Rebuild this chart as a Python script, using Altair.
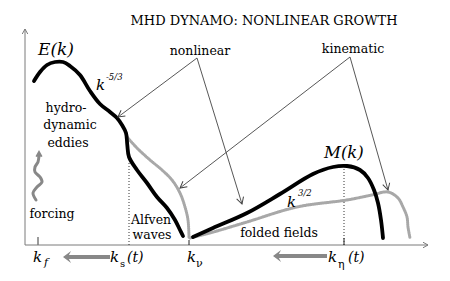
import math
import altair as alt
import pandas as pd

# ---- schematic spectra (x = wavenumber position, y = spectrum level, figure units) ----
E_nl_x = [34, 40, 47, 55, 63, 70, 80, 90, 100, 110, 117, 122, 126, 127.3, 129, 137, 147, 157, 167, 175, 180, 183]
E_nl_y = [81, 72, 65, 62, 62, 66, 75, 91, 104, 112, 118, 125, 133, 145, 157, 170, 183, 197, 208, 220, 230, 236]
E_kin_x = [127, 137, 150, 162, 172, 180, 185, 188, 189]
E_kin_y = [137, 148, 160, 170, 180, 193, 207, 220, 238]
M_nl_x = [193, 213, 247, 280, 313, 333, 347, 360, 368, 374, 378, 381, 383]
M_nl_y = [237, 228, 213, 194, 174, 167, 166, 170, 178, 190, 203, 220, 238]
M_kin_x = [190, 210, 247, 297, 347, 372, 388, 398, 403, 407, 408, 410]
M_kin_y = [238, 233, 222, 207, 200, 195, 192, 198, 207, 217, 227, 238]
forcing_x = [36, 33, 37, 42, 40, 35, 35, 38, 39]
forcing_y = [200, 193, 187, 182, 177, 172, 167, 162, 155]

# annotation pointers (label -> curve)
ann_x0 = [197, 197, 350, 350]
ann_y0 = [58, 58, 57, 57]
ann_x1 = [118, 242, 180, 388]
ann_y1 = [117, 204, 188, 190]

# characteristic wavenumbers
k_f, k_s, k_nu, k_eta = 38, 129, 189, 344

# texts
title_text = ["MHD DYNAMO: NONLINEAR GROWTH"]
italic_labels = ["E(k)", "k", "-5/3", "M(k)", "k", "3/2", "k", "f", "k", "(t)", "k", "k", "(t)"]
italic_x = [38, 96, 106, 324, 287, 298, 33, 44, 110, 127, 187, 328, 348]
italic_y = [55, 90, 80, 158, 207, 196, 262, 266, 262, 262, 262, 262, 262]
italic_s = [17, 15, 8.5, 16.5, 15, 8.5, 15, 11, 15, 14, 15, 15, 14]
sub_labels = ["s", "ν", "η"]
sub_x = [120, 196, 338]
sub_y = [267, 267, 268]
sub_s = [10, 11, 11]
word_labels = ["nonlinear", "kinematic", "hydro-", "dynamic", "eddies", "forcing", "Alfven", "waves", "folded fields"]
word_x = [200, 353, 66, 70, 68, 52, 151, 152, 279]
word_y = [55, 53, 112, 129, 147, 218, 224, 239, 237]

FONT = "DejaVu Serif"

XS = alt.Scale(domain=[8, 442], nice=False, zero=False)
YS = alt.Scale(domain=[8, 273], nice=False, zero=False, reverse=True)
X = alt.X("x:Q", scale=XS, axis=None)
Y = alt.Y("y:Q", scale=YS, axis=None)


def curve(xs, ys, color, width, dash=None, interp="catmull-rom"):
    df = pd.DataFrame({"x": xs, "y": ys, "i": list(range(len(xs)))})
    kw = dict(color=color, strokeWidth=width, interpolate=interp, strokeCap="round",
              strokeJoin="round", clip=False)
    if dash:
        kw["strokeDash"] = dash
    return alt.Chart(df).mark_line(**kw).encode(x=X, y=Y, order="i:Q")


def segs(x0, y0, x1, y1, color, width, dash=None):
    df = pd.DataFrame({"x": x0, "y": y0, "x2": x1, "y2": y1})
    kw = dict(color=color, strokeWidth=width)
    if dash:
        kw["strokeDash"] = dash
    return alt.Chart(df).mark_rule(**kw).encode(x=X, y=Y, x2="x2:Q", y2="y2:Q")


def heads(x0, y0, x1, y1, color, size, shape, filled, width=1):
    ang = [math.degrees(math.atan2(b1 - b0, a1 - a0)) % 360 for a0, b0, a1, b1 in zip(x0, y0, x1, y1)]
    df = pd.DataFrame({"x": x1, "y": y1, "ang": ang})
    return alt.Chart(df).mark_point(shape=shape, filled=filled, size=size, color=color,
                                    strokeWidth=width, opacity=1).encode(
        x=X, y=Y, angle=alt.Angle("ang:Q", scale=None))


def texts(labels, xs, ys, sizes, align, style="normal", color="black"):
    df = pd.DataFrame({"t": labels, "x": xs, "y": ys, "s": sizes})
    return alt.Chart(df).mark_text(align=align, baseline="alphabetic", font=FONT,
                                   fontStyle=style, color=color).encode(
        x=X, y=Y, text="t:N", size=alt.Size("s:Q", scale=None))


V_OPEN = "M-1,-0.55L0,0L-1,0.55"
DART = "M0,0L-1,-0.75L-0.6,0L-1,0.75Z"
axis_c = "#7a7a7a"
hatch_c = "#a8a8a8"

layers = [
    # axes
    segs([25, 25], [245, 245], [25, 428], [29, 245], axis_c, 1),
    heads([25, 25], [245, 245], [25, 428], [29, 245], axis_c, 100, V_OPEN, False),
    # ticks and dotted markers
    segs([k_f], [245], [k_f], [237], axis_c, 1.5),
    segs([k_nu, k_eta], [245, 245], [k_nu, k_eta], [240, 238], "#222", 1),
    segs([k_s, k_eta], [245, 245], [k_s, k_eta], [162, 168], "#333", 1, [1, 2]),
    # kinematic (gray hatched) spectra
    curve(E_kin_x, E_kin_y, hatch_c, 3, [1, 1]),
    curve(M_kin_x, M_kin_y, hatch_c, 3, [1, 1]),
    # nonlinear spectra
    curve(E_nl_x, E_nl_y, "black", 3.8),
    curve(M_nl_x, M_nl_y, "black", 3.8),
    # forcing squiggle
    curve(forcing_x, forcing_y, "#888888", 3),
    heads([39], [162], [39], [152], "#888888", 90, V_OPEN, False, 2),
    # thick gray arrows (scales moving to smaller k)
    segs([110, 327], [257, 256], [66, 276], [257, 256], "#888888", 4),
    heads([110, 327], [257, 256], [63, 273], [257, 256], "#888888", 260, DART, True),
    # annotation pointers
    segs(ann_x0, ann_y0, ann_x1, ann_y1, "#444444", 0.9),
    heads(ann_x0, ann_y0, ann_x1, ann_y1, "#444444", 170, V_OPEN, False, 1),
    # texts
    texts(title_text, [264], [25], [13], "center"),
    texts(italic_labels, italic_x, italic_y, italic_s, "left", "italic"),
    texts(sub_labels, sub_x, sub_y, sub_s, "left"),
    texts(word_labels, word_x, word_y, [12.5] * len(word_labels), "center"),
]

chart = alt.layer(*layers).properties(width=434, height=265, padding=0).configure_view(strokeWidth=0)
chart.save("out.html", embed_options={"renderer": "svg", "actions": False})
